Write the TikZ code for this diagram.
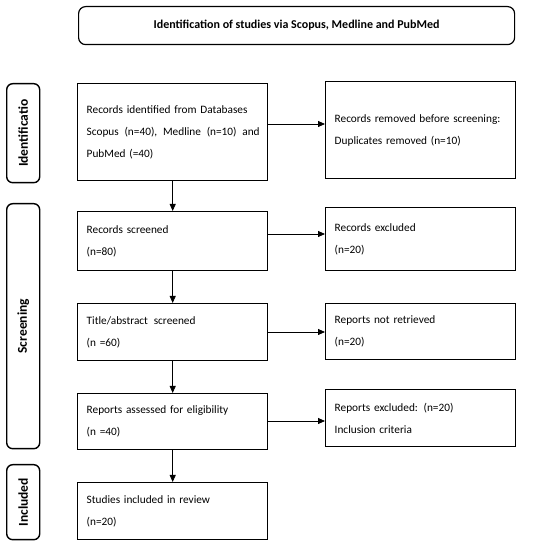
\documentclass[tikz,border=0pt]{standalone}
\usepackage{fontspec}
\setmainfont{Carlito}
\usetikzlibrary{arrows.meta}
\begin{document}
\begin{tikzpicture}[x=1pt,y=-1pt,
  stagebox/.style={draw,line width=1.4pt,rectangle,anchor=north west,minimum width=190pt,
    text width=172pt,inner xsep=9pt,inner ysep=2pt,align=left,
    font=\fontsize{11.3}{21.8}\selectfont},
  sidebox/.style={draw,line width=1.4pt,rounded corners=6pt,anchor=north west,minimum width=33pt,
    inner sep=0pt},
  sidelabel/.style={rotate=90,font=\bfseries\fontsize{13.5}{15}\selectfont},
  flow/.style={line width=0.8pt,-{Triangle[length=7pt,width=6pt]}}]
\useasboundingbox (0,0) rectangle (550,545);
% title
\node[draw,line width=1.2pt,rounded corners=7pt,anchor=north west,minimum width=436pt,minimum height=38pt,
  font=\bfseries\fontsize{12}{14}\selectfont] (title) at (78,6) {Identification of studies via Scopus, Medline and PubMed};
% side boxes
\node[sidebox,minimum height=99pt] (sid) at (6,83) {};
\node[sidelabel] (sidl) at (sid.center) {Identificatio};
\node[sidebox,minimum height=245pt] (sscr) at (6,203) {};
\node[sidelabel] (sscrl) at (sscr.center) {Screening};
\node[sidebox,minimum height=75pt] (sinc) at (6,464) {};
\node[sidelabel] (sincl) at (sinc.center) {Included};
% left column
\node[stagebox,minimum height=97pt] (b1) at (77,83) {Records identified from Databases\\\mbox{Scopus\hspace{2pt} (n=40),\hspace{2pt} Medline\hspace{2pt} (n=10)\hspace{2pt} and}\\PubMed (=40)};
\node[stagebox,minimum height=59pt] (b2) at (77,211) {Records screened\\(n=80)};
\node[stagebox,minimum height=57pt] (b3) at (77,303) {Title/abstract\hspace{2pt} screened\\(n =60)};
\node[stagebox,minimum height=56pt] (b4) at (77,393) {Reports assessed for eligibility\\(n =40)};
\node[stagebox,minimum height=57pt] (b5) at (77,482) {Studies included in review\\(n=20)};
% right column
\node[stagebox,minimum height=97pt] (r1) at (325,81) {Records removed before screening:\\Duplicates removed (n=10)};
\node[stagebox,minimum height=63pt] (r2) at (325,207) {Records excluded\\(n=20)};
\node[stagebox,minimum height=56pt] (r3) at (325,303) {Reports not retrieved\\(n=20)};
\node[stagebox,minimum height=57pt] (r4) at (325,389) {Reports excluded: (n=20)\\Inclusion criteria};
% connectors
\draw[flow] (b1.south) -- (b2.north);
\draw[flow] (b2.south) -- (b3.north);
\draw[flow] (b3.south) -- (b4.north);
\draw[flow] (b4.south) -- (b5.north);
\draw[flow] (b1.east |- 0,124) -- (r1.west |- 0,124);
\draw[flow] (b2.east |- 0,234) -- (r2.west |- 0,234);
\draw[flow] (b3.east |- 0,332) -- (r3.west |- 0,332);
\draw[flow] (b4.east |- 0,421) -- (r4.west |- 0,421);
\end{tikzpicture}
\end{document}
